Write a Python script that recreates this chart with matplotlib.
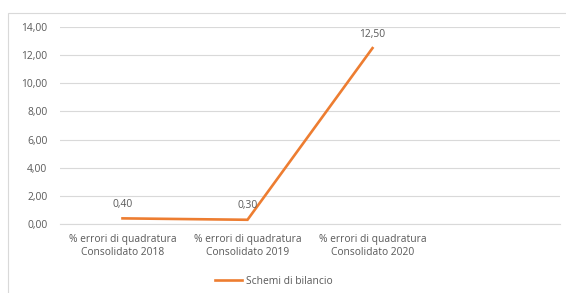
import matplotlib.pyplot as plt
from matplotlib.patches import Rectangle

categories = ["% errori di quadratura\nConsolidato 2018",
              "% errori di quadratura\nConsolidato 2019",
              "% errori di quadratura\nConsolidato 2020", ""]
values = [0.40, 0.30, 12.50]
value_labels = ["0,40", "0,30", "12,50"]
y_ticks = [0, 2, 4, 6, 8, 10, 12, 14]
series_name = "Schemi di bilancio"

plt.rcParams['font.family'] = ['Open Sans', 'DejaVu Sans']
grey = '#595959'
orange = '#ED7D31'
fs = 7.4

fig = plt.figure(figsize=(5.66, 2.93), dpi=100)
fig.patches.append(Rectangle((8 / 566, -0.1), 1.0, 1 - 13 / 293 + 0.1,
                             transform=fig.transFigure, fill=False,
                             edgecolor='#d9d9d9', linewidth=0.8))
ax = fig.add_axes([60 / 566, 1 - 224 / 293, 500 / 566, 197 / 293])

x = list(range(len(values)))
ax.plot(x, values, color=orange, linewidth=1.9, label=series_name,
        solid_joinstyle='miter')
for xi, v, t in zip(x, values, value_labels):
    ax.annotate(t, (xi, v), xytext=(0, 6), textcoords='offset points',
                ha='center', va='bottom', fontsize=fs, color=grey)

ax.set_xlim(-0.5, len(categories) - 0.5)
ax.set_ylim(0, 14)
ax.set_yticks(y_ticks)
ax.set_yticklabels([f"{t:.2f}".replace('.', ',') for t in y_ticks])
ax.set_xticks(range(len(categories)))
ax.set_xticklabels(categories, linespacing=1.25)
ax.tick_params(axis='both', length=0, labelsize=fs, colors=grey)
ax.tick_params(axis='y', pad=9)
ax.tick_params(axis='x', pad=7)
ax.grid(axis='y', color='#d9d9d9', linewidth=0.8)
ax.set_axisbelow(True)
for s in ['top', 'right', 'left']:
    ax.spines[s].set_visible(False)
ax.spines['bottom'].set_color('#d9d9d9')
ax.spines['bottom'].set_linewidth(0.8)

fig.legend(loc='center', bbox_to_anchor=(274 / 566, 1 - 281 / 293),
           frameon=False, fontsize=fs, labelcolor=grey, handlelength=2.6,
           handletextpad=0.4)

fig.savefig("out.png", dpi=100)
